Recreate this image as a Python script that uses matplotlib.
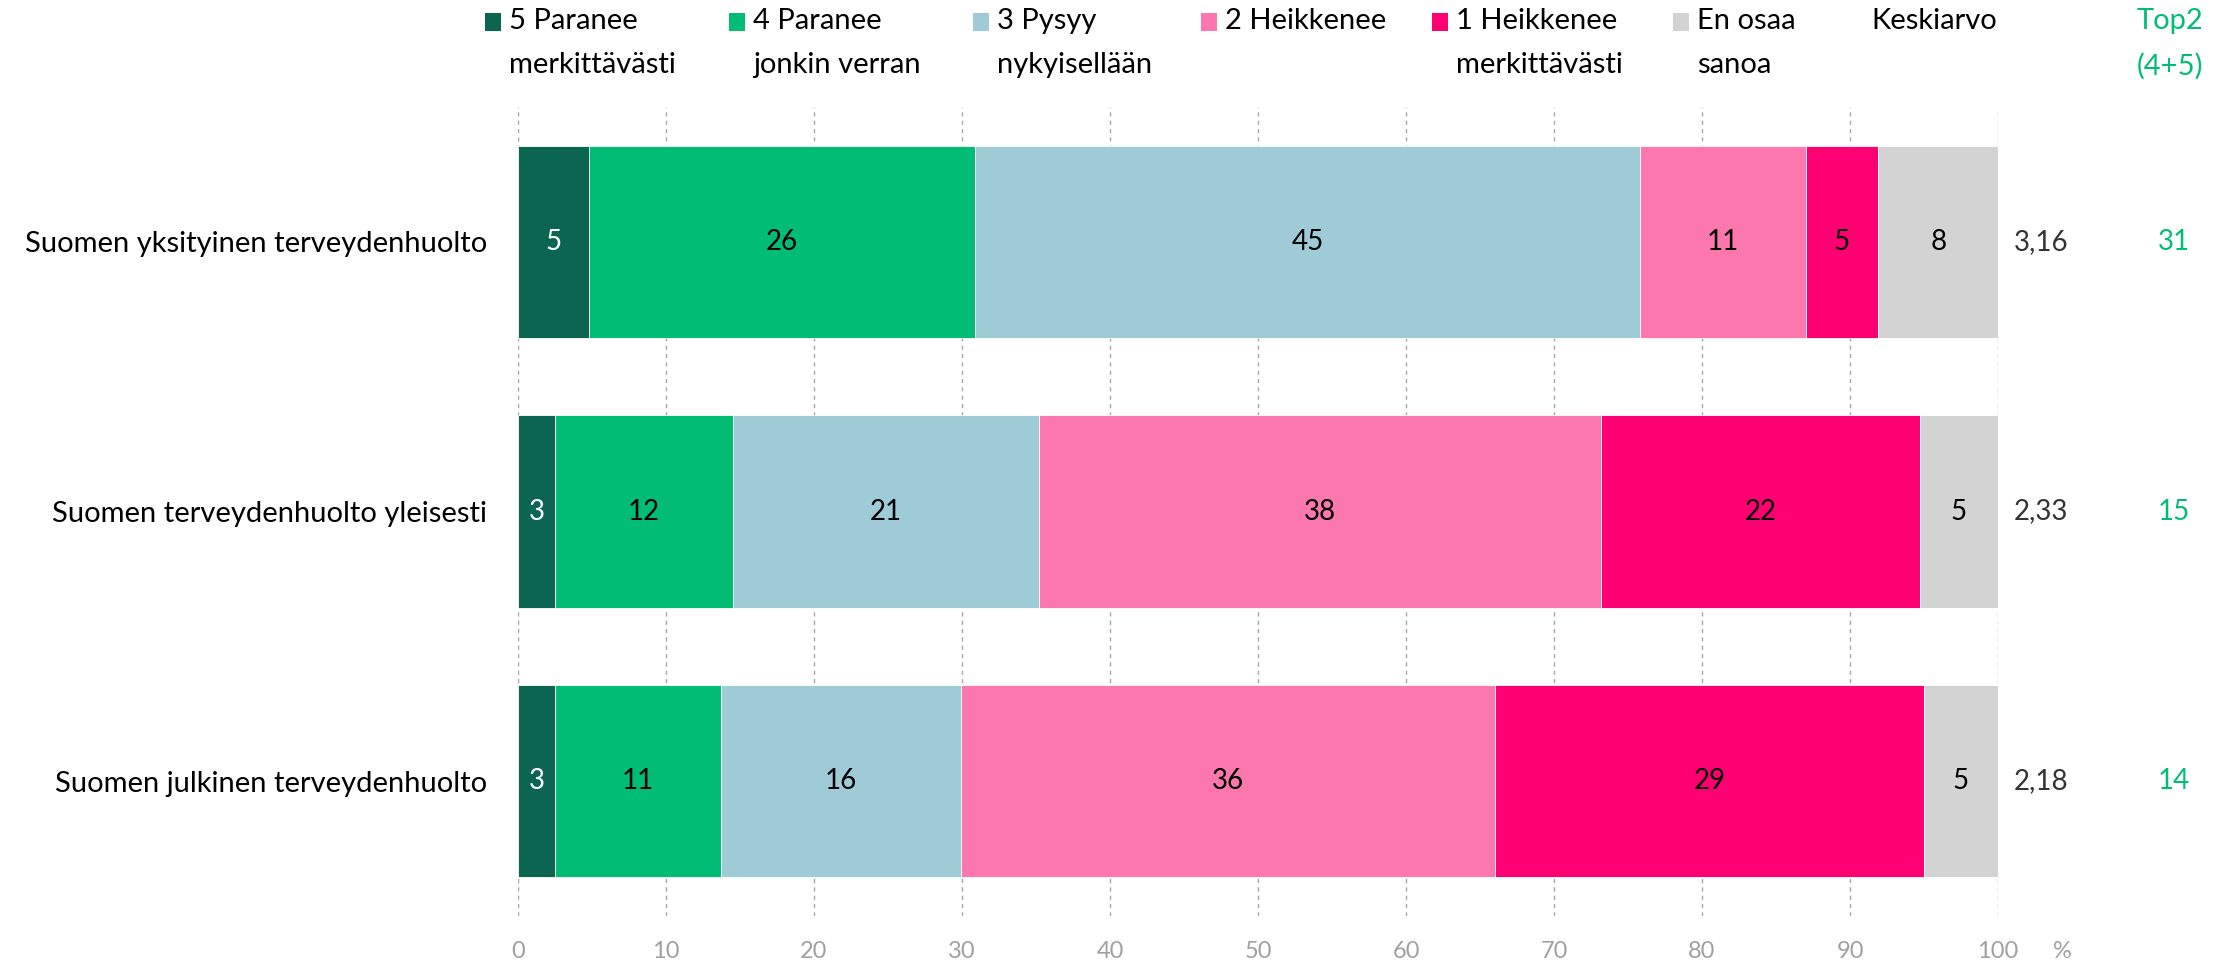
import matplotlib
matplotlib.use("Agg")
import matplotlib.pyplot as plt
import matplotlib.transforms as mtransforms
from matplotlib.patches import Rectangle

plt.rcParams['font.family'] = ['Lato', 'DejaVu Sans']

categories = ["Suomen yksityinen terveydenhuolto",
              "Suomen terveydenhuolto yleisesti",
              "Suomen julkinen terveydenhuolto"]
series_names = ["5 Paranee\nmerkittävästi", "4 Paranee\njonkin verran", "3 Pysyy\nnykyisellään",
                "2 Heikkenee", "1 Heikkenee\nmerkittävästi", "En osaa\nsanoa"]
s5 = [4.8, 2.5, 2.5]
s4 = [26.1, 12.0, 11.2]
s3 = [44.9, 20.7, 16.2]
s2 = [11.2, 38.0, 36.1]
s1 = [4.9, 21.5, 29.0]
eos = [8.2, 5.3, 5.0]
labels5 = [5, 3, 3]
labels4 = [26, 12, 11]
labels3 = [45, 21, 16]
labels2 = [11, 38, 36]
labels1 = [5, 22, 29]
labels_eos = [8, 5, 5]
keskiarvo = [3.16, 2.33, 2.18]
top2 = [31, 15, 14]
xticks = [0, 10, 20, 30, 40, 50, 60, 70, 80, 90, 100]

colors = ["#0B6551", "#00BC74", "#9FCBD6", "#FC77AD", "#FF0073", "#D3D3D3"]
label_colors = ["white", "black", "black", "black", "black", "black"]
green_txt = "#00BC74"

W, H = 2234, 964
fig = plt.figure(figsize=(W / 100, H / 100), dpi=100)
ax = fig.add_axes([518 / W, 1 - 916 / H, (1998 - 518) / W, (916 - 107) / H])

series = [s5, s4, s3, s2, s1, eos]
slabels = [labels5, labels4, labels3, labels2, labels1, labels_eos]
ypos = list(range(len(categories)))
left = [0.0] * len(categories)
for vals, labs, col, lc in zip(series, slabels, colors, label_colors):
    ax.barh(ypos, vals, left=left, height=0.714, color=col,
            edgecolor="white", linewidth=0.6, zorder=3)
    for y, v, l, lb in zip(ypos, vals, left, labs):
        ax.text(l + v / 2, y, f"{lb}", ha="center", va="center",
                fontsize=20, color=lc, zorder=4)
    left = [a + b for a, b in zip(left, vals)]

ax.set_xlim(0, 100)
ax.set_ylim(2.5, -0.5)
ax.set_yticks(ypos)
ax.set_yticklabels(categories, fontsize=21)
ax.set_xticks(xticks)
ax.set_xticklabels([str(t) for t in xticks], fontsize=17, color="#A0A0A0")
ax.tick_params(axis="y", length=0, pad=22)
ax.tick_params(axis="x", length=0, pad=18)
for sp in ax.spines.values():
    sp.set_visible(False)
for t in xticks:
    ax.axvline(t, color="#A6A6A6", linewidth=1, linestyle=(0, (3, 3)), zorder=1)

# % label
fig.text(2062 / W, 1 - 952 / H, "%", fontsize=17, color="#A0A0A0", ha="center", va="center")

# mean and top2 columns
trans = mtransforms.blended_transform_factory(fig.transFigure, ax.transData)
for y, m, t in zip(ypos, keskiarvo, top2):
    ax.text(2014 / W, y, f"{m:.2f}".replace(".", ","), transform=trans,
            fontsize=20, color="#333333", ha="left", va="center")
    ax.text(2174 / W, y, f"{t}", transform=trans,
            fontsize=20, color=green_txt, ha="center", va="center")

# custom legend
leg_sq_x = [485, 729, 973, 1201, 1432, 1673]
for x0, name, col in zip(leg_sq_x, series_names, colors):
    fig.add_artist(Rectangle((x0 / W, 1 - 31 / H), 16 / W, 18 / H,
                             transform=fig.transFigure, facecolor=col, edgecolor="none"))
    fig.text((x0 + 24) / W, 1 - 8 / H, name, fontsize=21, color="black",
             ha="left", va="top", linespacing=1.85)
fig.text(1871 / W, 1 - 8 / H, "Keskiarvo", fontsize=21, color="black", ha="left", va="top")
fig.text(2170 / W, 1 - 8 / H, "Top2\n(4+5)", fontsize=21, color=green_txt,
         ha="center", va="top", linespacing=1.85, multialignment="center")

fig.savefig("out.png", dpi=100, facecolor="white")
